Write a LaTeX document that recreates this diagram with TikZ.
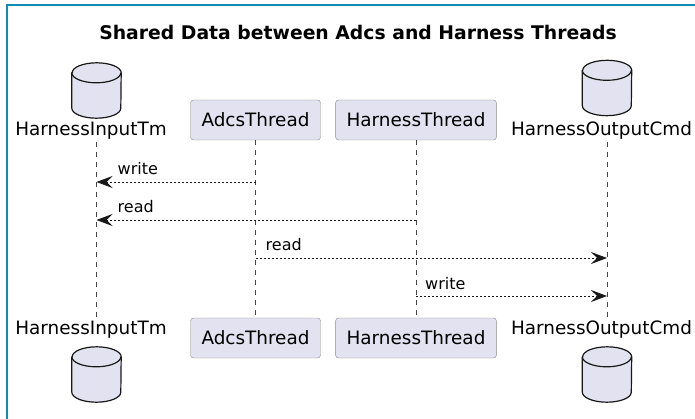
\documentclass[tikz,border=0pt]{standalone}
\usepackage{fontspec}
\setmainfont{DejaVu Sans}
\usetikzlibrary{arrows.meta,positioning}
\definecolor{pfill}{HTML}{E2E2F0}
\definecolor{pline}{HTML}{181818}
\definecolor{pbox}{HTML}{8A8A8A}
\definecolor{frame}{RGB}{16,140,178}

\begin{document}
\begin{tikzpicture}[x=1pt, y=-1pt,
  part/.style={draw=pbox, fill=pfill, rounded corners=3pt, inner xsep=11pt,
               minimum height=40pt, font=\fontsize{18.4}{20}\selectfont},
  db/.style={minimum width=49pt, minimum height=55pt, inner sep=0pt},
  dbline/.style={draw=pline, line width=1.2pt, fill=pfill, line join=round},
  dbname/.style={anchor=base, inner sep=0pt, font=\fontsize{18.4}{20}\selectfont},
  life/.style={draw=pline!80, line width=0.5pt, dash pattern=on 5pt off 5pt},
  msg/.style={draw=pline, line width=0.9pt, dash pattern=on 2pt off 2pt,
              -{Stealth[length=16pt, width=12pt, inset=6pt]}},
  msglbl/.style={anchor=base west, inner sep=0pt, font=\fontsize{16}{18}\selectfont}
]
\useasboundingbox (0,0) rectangle (695,419);
\draw[frame, line width=2.5pt] (7,419) -- (7,5) -- (695,5);

\node[anchor=base, font=\bfseries\fontsize{18.8}{20}\selectfont] (title) at (358,40)
  {Shared Data between Adcs and Harness Threads};

\node[db] (inTm) at (96.5,90.5) {};
\node[dbname] (inTmName) at (91,136) {HarnessInputTm};
\node[part] (adcs) at (255.5,120) {AdcsThread};
\node[part] (harness) at (416,120) {HarnessThread};
\node[db] (outCmd) at (607,88) {};
\node[dbname] (outCmdName) at (601.5,136) {HarnessOutputCmd};

\node[dbname] (inTmNameB) at (91,334) {HarnessInputTm};
\node[db] (inTmB) at (96.5,374.5) {};
\node[part] (adcsB) at (255.5,338) {AdcsThread};
\node[part] (harnessB) at (416,338) {HarnessThread};
\node[dbname] (outCmdNameB) at (601.5,334) {HarnessOutputCmd};
\node[db] (outCmdB) at (607,374.5) {};

\foreach \n in {inTm,outCmd,inTmB,outCmdB} {
  \draw[dbline] ([yshift=-10pt]\n.north west) -- ([yshift=10pt]\n.south west)
    arc[start angle=180, end angle=360, x radius=24.5pt, y radius=10pt]
    -- ([yshift=-10pt]\n.north east)
    arc[start angle=0, end angle=180, x radius=24.5pt, y radius=10pt] -- cycle;
  \draw[dbline, fill=none] ([yshift=-10pt]\n.north west)
    arc[start angle=180, end angle=360, x radius=24.5pt, y radius=10pt];
}

\draw[life] (inTm |- 0,142) -- (inTm |- 0,318);
\draw[life] (adcs) -- (adcsB);
\draw[life] (harness) -- (harnessB);
\draw[life] (outCmd |- 0,142) -- (outCmd |- 0,318);

\coordinate (m1s) at (adcs |- 0,182);
\coordinate (m1e) at (inTm |- 0,182);
\coordinate (m2s) at (harness |- 0,220);
\coordinate (m2e) at (inTm |- 0,220);
\coordinate (m3s) at (adcs |- 0,258);
\coordinate (m3e) at (outCmd |- 0,258);
\coordinate (m4s) at (harness |- 0,296);
\coordinate (m4e) at (outCmd |- 0,296);

\draw[msg] (m1s) -- (m1e);
\draw[msg] (m2s) -- (m2e);
\draw[msg] (m3s) -- (m3e);
\draw[msg] (m4s) -- (m4e);

\node[msglbl] (m1) at ([xshift=21pt, yshift=7pt] m1e) {write};
\node[msglbl] (m2) at ([xshift=21pt, yshift=7pt] m2e) {read};
\node[msglbl] (m3) at ([xshift=10pt, yshift=7pt] m3s) {read};
\node[msglbl] (m4) at ([xshift=9pt, yshift=7pt] m4s) {write};
\end{tikzpicture}
\end{document}
